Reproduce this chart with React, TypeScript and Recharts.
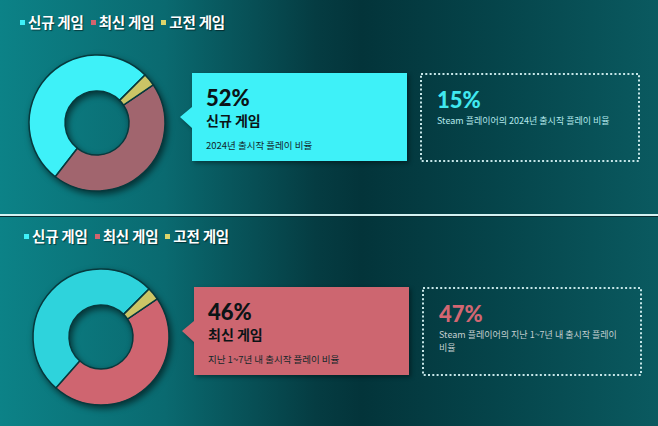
import { PieChart, Pie, Cell } from "recharts";

const categories = ["신규 게임", "최신 게임", "고전 게임"];
const share2024 = [52, 45, 3];
const shareRecent = [51, 46, 3];
const steamShare = [15, 47];
const highlightNotes = ["2024년 출시작 플레이 비율", "지난 1~7년 내 출시작 플레이 비율"];
const steamNotes = [
    ["Steam 플레이어의 2024년 출시작 플레이 비율"],
    ["Steam 플레이어의 지난 1~7년 내 출시작 플레이", "비율"],
];

const legendColors = ["#3ef1f8", "#d0646e", "#dcd46a"];
const KR = "'Noto Sans CJK KR', 'Noto Sans', sans-serif";
const NUM = "Lato, 'Noto Sans CJK KR', sans-serif";

interface PanelProps {
    top: number;
    shares: number[];
    pick: number;
    colors: string[];
    boxFill: string;
    steamColor: string;
    steamNoteColor: string;
    steamValue: number;
    note: string;
    steamLines: string[];
    cx: number;
    cy: number;
    dx: number;
    legendLeft: number;
    legendTop: number;
}

const Panel = (p: PanelProps) => {
    const data = categories.map((name, i) => ({ name, value: p.shares[i] }));
    const bx = 192 + p.dx;
    const by = 73;
    const bw = 215;
    const bh = 88;
    const sx = 421 + p.dx;
    return (
        <div style={{ position: "absolute", left: 0, top: p.top, width: 658, height: 213 }}>
            <div style={{ position: "absolute", left: 0, top: 0, filter: "drop-shadow(2px 3px 3px rgba(0,0,0,0.55))" }}>
                <PieChart width={200} height={213}>
                    <Pie
                        data={data}
                        dataKey="value"
                        nameKey="name"
                        cx={p.cx}
                        cy={p.cy}
                        innerRadius={32}
                        outerRadius={68}
                        startAngle={45}
                        endAngle={405}
                        stroke="#06393d"
                        strokeWidth={1.5}
                        isAnimationActive={false}
                    >
                        {data.map((d, i) => (
                            <Cell key={d.name} fill={p.colors[i]} />
                        ))}
                    </Pie>
                </PieChart>
            </div>
            <div
                style={{
                    position: "absolute",
                    left: p.legendLeft,
                    top: p.legendTop,
                    display: "flex",
                    alignItems: "center",
                    fontFamily: KR,
                    fontWeight: 700,
                    fontSize: 14.5,
                    lineHeight: "16px",
                    letterSpacing: -0.2,
                    color: "#ffffff",
                    textShadow: "1px 1px 1px rgba(0,0,0,0.5)",
                    whiteSpace: "nowrap",
                }}
            >
                {categories.map((c, i) => (
                    <div key={c} style={{ display: "flex", alignItems: "center", marginRight: 7 }}>
                        <span style={{ width: 5, height: 5, background: legendColors[i], marginRight: 3 }} />
                        <span>{c}</span>
                    </div>
                ))}
            </div>
            <svg width={658} height={213} style={{ position: "absolute", left: 0, top: 0 }}>
                <polygon
                    points={`${bx},${by} ${bx + bw},${by} ${bx + bw},${by + bh} ${bx},${by + bh} ${bx},${by + 55} ${bx - 12},${by + 44} ${bx},${by + 34}`}
                    fill={p.boxFill}
                    style={{ filter: "drop-shadow(2px 2px 2px rgba(0,0,0,0.4))" }}
                />
                <text x={bx + 14} y={by + 33} fontFamily={NUM} fontWeight={900} fontSize={22} fill="#0b1416">
                    {`${p.shares[p.pick]}%`}
                </text>
                <text x={bx + 14} y={by + 53} fontFamily={KR} fontWeight={700} fontSize={14} fill="#0b1416">
                    {categories[p.pick]}
                </text>
                <text x={bx + 14} y={by + 76} fontFamily={KR} fontSize={9.5} fill="#13282a">
                    {p.note}
                </text>
                <rect
                    x={sx}
                    y={by + 1}
                    width={218}
                    height={87}
                    fill="none"
                    stroke="#c6e6e8"
                    strokeWidth={2}
                    strokeDasharray="2 2.3"
                />
                <text x={sx + 16} y={by + 35} fontFamily={NUM} fontWeight={900} fontSize={22} fill={p.steamColor}>
                    {`${p.steamValue}%`}
                </text>
                {p.steamLines.map((line, i) => (
                    <text key={i} x={sx + 16} y={by + 51 + i * 13} fontFamily={KR} fontSize={9} fill={p.steamNoteColor}>
                        {line}
                    </text>
                ))}
            </svg>
        </div>
    );
};

export default function App() {
    return (
        <div
            style={{
                position: "absolute",
                left: 0,
                top: 0,
                width: 658,
                height: 426,
                overflow: "hidden",
                background: "#04363b",
            }}
        >
            {[0, 217].map((t) => (
                <div
                    key={t}
                    style={{
                        position: "absolute",
                        left: 0,
                        top: t,
                        width: 658,
                        height: t === 0 ? 214 : 209,
                        background:
                            "linear-gradient(90deg, #0c8287 0%, #0a6a70 25%, #053c42 48%, #03343a 55%, #05444a 75%, #0a5a60 100%)",
                    }}
                />
            ))}
            <div style={{ position: "absolute", left: 0, top: 214, width: 658, height: 2, background: "#d4f2f2" }} />
            <div style={{ position: "absolute", left: 0, top: 216, width: 658, height: 1, background: "#0a2a2e" }} />
            <Panel
                top={0}
                shares={share2024}
                pick={0}
                colors={["#3ef1f8", "#a1656e", "#cbc566"]}
                boxFill="#3ef1f8"
                steamColor="#40e8f0"
                steamNoteColor="#b4e8ec"
                steamValue={steamShare[0]}
                note={highlightNotes[0]}
                steamLines={steamNotes[0]}
                cx={92}
                cy={118}
                dx={0}
                legendLeft={20}
                legendTop={14}
            />
            <Panel
                top={214}
                shares={shareRecent}
                pick={1}
                colors={["#2ed3dc", "#cf6570", "#cbc566"]}
                boxFill="#cd6670"
                steamColor="#d26672"
                steamNoteColor="#c4cfd0"
                steamValue={steamShare[1]}
                note={highlightNotes[1]}
                steamLines={steamNotes[1]}
                cx={96}
                cy={118}
                dx={2}
                legendLeft={24}
                legendTop={14}
            />
        </div>
    );
}
